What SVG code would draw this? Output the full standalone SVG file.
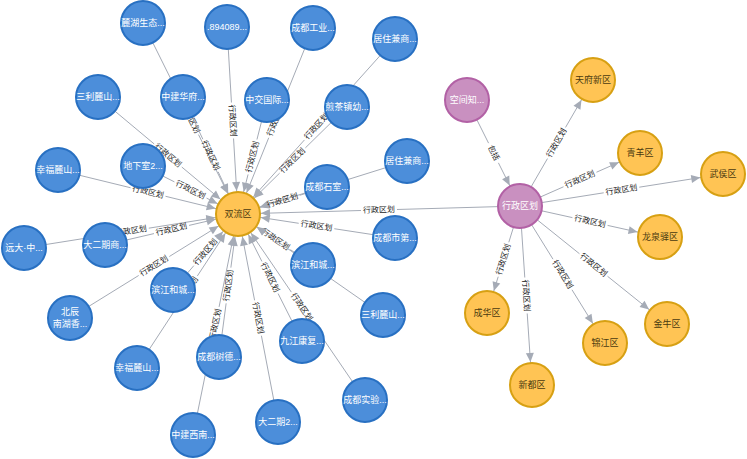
<svg xmlns="http://www.w3.org/2000/svg" width="747" height="459" viewBox="0 0 747 459">
<style>
.e{stroke:#a5abb6;stroke-width:1;fill:none;marker-end:url(#arr)}
.el{font-family:"Liberation Sans","Noto Sans CJK SC",sans-serif;font-size:8px;fill:#222;text-anchor:middle;dominant-baseline:central}
.nb circle{fill:#4c8eda;stroke:#2870c2;stroke-width:2}
.ny circle{fill:#ffc454;stroke:#d7a013;stroke-width:2}
.np circle{fill:#c990c0;stroke:#b261a5;stroke-width:2}
.nb text,.np text{fill:#fff}
.ny text{fill:#4a3a10}
text.c{font-family:"Liberation Sans","Noto Sans CJK SC",sans-serif;font-size:9px;text-anchor:middle;dominant-baseline:central}
</style>
<defs>
<marker id="arr" markerUnits="userSpaceOnUse" orient="auto" refX="0" refY="0" markerWidth="10" markerHeight="10" overflow="visible">
<path d="M-32,-4 L-23,0 L-32,4 Z" fill="#a5abb6"/>
</marker>
</defs>
<rect width="747" height="459" fill="#fff"/>
<g id="edges">
<line class="e" x1="143" y1="23" x2="238" y2="214" stroke-dasharray="88.65 36 300"/>
<text class="el" transform="translate(190.5,118.5) rotate(63.55)">行政区划</text>
<line class="e" x1="227" y1="27" x2="238" y2="214" stroke-dasharray="75.65 36 300"/>
<text class="el" transform="translate(232.5,120.5) rotate(86.63)">行政区划</text>
<line class="e" x1="313" y1="28" x2="238" y2="214" stroke-dasharray="82.3 36 300"/>
<text class="el" transform="translate(275.5,121) rotate(-68.04)">行政区划</text>
<line class="e" x1="395" y1="39" x2="238" y2="214" stroke-dasharray="99.55 36 300"/>
<text class="el" transform="translate(316.5,126.5) rotate(-48.1)">行政区划</text>
<line class="e" x1="98" y1="97" x2="238" y2="214" stroke-dasharray="73.2 36 300"/>
<text class="el" transform="translate(168,155.5) rotate(39.89)">行政区划</text>
<line class="e" x1="183" y1="97" x2="238" y2="214" stroke-dasharray="46.65 36 300"/>
<text class="el" transform="translate(210.5,155.5) rotate(64.83)">行政区划</text>
<line class="e" x1="267" y1="100" x2="238" y2="214" stroke-dasharray="40.8 36 300"/>
<text class="el" transform="translate(252.5,157) rotate(-75.73)">行政区划</text>
<line class="e" x1="347" y1="107" x2="238" y2="214" stroke-dasharray="58.35 36 300"/>
<text class="el" transform="translate(292.5,160.5) rotate(-44.47)">行政区划</text>
<line class="e" x1="143" y1="166" x2="238" y2="214" stroke-dasharray="35.2 36 300"/>
<text class="el" transform="translate(190.5,190) rotate(26.81)">行政区划</text>
<line class="e" x1="58" y1="170" x2="238" y2="214" stroke-dasharray="74.65 36 300"/>
<text class="el" transform="translate(148,192) rotate(13.74)">行政区划</text>
<line class="e" x1="407" y1="161" x2="238" y2="214" stroke-dasharray="70.55 36 300"/>
<text class="el" transform="translate(322.5,187.5) rotate(-17.41)">行政区划</text>
<line class="e" x1="327" y1="187" x2="238" y2="214" stroke-dasharray="28.5 36 300"/>
<text class="el" transform="translate(282.5,200.5) rotate(-16.88)">行政区划</text>
<line class="e" x1="24" y1="248" x2="238" y2="214" stroke-dasharray="90.35 36 300"/>
<text class="el" transform="translate(131,231) rotate(-9.03)">行政区划</text>
<line class="e" x1="105" y1="245" x2="238" y2="214" stroke-dasharray="50.3 36 300"/>
<text class="el" transform="translate(171.5,229.5) rotate(-13.12)">行政区划</text>
<line class="e" x1="395" y1="238" x2="238" y2="214" stroke-dasharray="61.4 36 300"/>
<text class="el" transform="translate(316.5,226) rotate(8.69)">行政区划</text>
<line class="e" x1="70" y1="318" x2="238" y2="214" stroke-dasharray="80.8 36 300"/>
<text class="el" transform="translate(154,266) rotate(-31.76)">行政区划</text>
<line class="e" x1="173" y1="290" x2="238" y2="214" stroke-dasharray="32 36 300"/>
<text class="el" transform="translate(205.5,252) rotate(-49.46)">行政区划</text>
<line class="e" x1="313" y1="265" x2="238" y2="214" stroke-dasharray="27.35 36 300"/>
<text class="el" transform="translate(275.5,239.5) rotate(34.22)">行政区划</text>
<line class="e" x1="383" y1="315" x2="238" y2="214" stroke-dasharray="70.35 36 300"/>
<text class="el" transform="translate(310.5,264.5) rotate(34.86)">行政区划</text>
<line class="e" x1="302" y1="341" x2="238" y2="214" stroke-dasharray="53.1 36 300"/>
<text class="el" transform="translate(270,277.5) rotate(63.26)">行政区划</text>
<line class="e" x1="137" y1="368" x2="238" y2="214" stroke-dasharray="74.1 36 300"/>
<text class="el" transform="translate(187.5,291) rotate(-56.74)">行政区划</text>
<line class="e" x1="219" y1="357" x2="238" y2="214" stroke-dasharray="54.15 36 300"/>
<text class="el" transform="translate(228.5,285.5) rotate(-82.43)">行政区划</text>
<line class="e" x1="193" y1="435" x2="238" y2="214" stroke-dasharray="94.75 36 300"/>
<text class="el" transform="translate(215.5,324.5) rotate(-78.49)">行政区划</text>
<line class="e" x1="365" y1="400" x2="238" y2="214" stroke-dasharray="94.6 36 300"/>
<text class="el" transform="translate(301.5,307) rotate(55.68)">行政区划</text>
<line class="e" x1="278" y1="422" x2="238" y2="214" stroke-dasharray="87.9 36 300"/>
<text class="el" transform="translate(258,318) rotate(79.11)">行政区划</text>
<line class="e" x1="467" y1="100" x2="520" y2="206" stroke-dasharray="48.25 22 300"/>
<text class="el" transform="translate(493.5,153) rotate(63.43)">包括</text>
<line class="e" x1="520" y1="206" x2="238" y2="214" stroke-dasharray="123.05 36 400"/>
<text class="el" transform="translate(379,210) rotate(-1.62)">行政区划</text>
<line class="e" x1="520" y1="206" x2="593" y2="80" stroke-dasharray="54.8 36 300"/>
<text class="el" transform="translate(556.5,143) rotate(-59.92)">行政区划</text>
<line class="e" x1="520" y1="206" x2="640" y2="153" stroke-dasharray="47.6 36 300"/>
<text class="el" transform="translate(580,179.5) rotate(-23.83)">行政区划</text>
<line class="e" x1="520" y1="206" x2="723" y2="174" stroke-dasharray="84.75 36 300"/>
<text class="el" transform="translate(621.5,190) rotate(-8.96)">行政区划</text>
<line class="e" x1="520" y1="206" x2="660" y2="237" stroke-dasharray="53.7 36 300"/>
<text class="el" transform="translate(590,221.5) rotate(12.49)">行政区划</text>
<line class="e" x1="520" y1="206" x2="667" y2="324" stroke-dasharray="76.25 36 300"/>
<text class="el" transform="translate(593.5,265) rotate(38.75)">行政区划</text>
<line class="e" x1="520" y1="206" x2="605" y2="343" stroke-dasharray="62.6 36 300"/>
<text class="el" transform="translate(562.5,274.5) rotate(58.18)">行政区划</text>
<line class="e" x1="520" y1="206" x2="532" y2="385" stroke-dasharray="71.7 36 300"/>
<text class="el" transform="translate(526,295.5) rotate(86.16)">行政区划</text>
<line class="e" x1="520" y1="206" x2="487" y2="313" stroke-dasharray="38 36 300"/>
<text class="el" transform="translate(503.5,259.5) rotate(-72.86)">行政区划</text>
</g>
<g id="n-shuangliu" class="ny"><circle cx="238" cy="214" r="22"/><text class="c" x="238" y="214">双流区</text></g>
<g id="n1" class="nb"><circle cx="143" cy="23" r="22"/><text class="c" x="143" y="23">麓湖生态...</text></g>
<g id="n2" class="nb"><circle cx="227" cy="27" r="22"/><text class="c" x="227" y="27">.894089...</text></g>
<g id="n3" class="nb"><circle cx="313" cy="28" r="22"/><text class="c" x="313" y="28">成都工业...</text></g>
<g id="n4" class="nb"><circle cx="395" cy="39" r="22"/><text class="c" x="395" y="39">居住兼商...</text></g>
<g id="n5" class="nb"><circle cx="98" cy="97" r="22"/><text class="c" x="98" y="97">三利麓山...</text></g>
<g id="n6" class="nb"><circle cx="183" cy="97" r="22"/><text class="c" x="183" y="97">中建华府...</text></g>
<g id="n7" class="nb"><circle cx="267" cy="100" r="22"/><text class="c" x="267" y="100">中交国际...</text></g>
<g id="n8" class="nb"><circle cx="347" cy="107" r="22"/><text class="c" x="347" y="107">煎茶镇幼...</text></g>
<g id="n9" class="nb"><circle cx="143" cy="166" r="22"/><text class="c" x="143" y="166">地下室2...</text></g>
<g id="n10" class="nb"><circle cx="58" cy="170" r="22"/><text class="c" x="58" y="170">幸福麓山...</text></g>
<g id="n11" class="nb"><circle cx="407" cy="161" r="22"/><text class="c" x="407" y="161">居住兼商...</text></g>
<g id="n12" class="nb"><circle cx="327" cy="187" r="22"/><text class="c" x="327" y="187">成都石室...</text></g>
<g id="n13" class="nb"><circle cx="24" cy="248" r="22"/><text class="c" x="24" y="248">远大·中...</text></g>
<g id="n14" class="nb"><circle cx="105" cy="245" r="22"/><text class="c" x="105" y="245">大二期商...</text></g>
<g id="n15" class="nb"><circle cx="395" cy="238" r="22"/><text class="c" x="395" y="238">成都市第...</text></g>
<g id="n16" class="nb"><circle cx="70" cy="318" r="22"/><text class="c" x="70" y="312">北辰</text><text class="c" x="70" y="324">南湖香...</text></g>
<g id="n17" class="nb"><circle cx="173" cy="290" r="22"/><text class="c" x="173" y="290">滨江和城...</text></g>
<g id="n18" class="nb"><circle cx="313" cy="265" r="22"/><text class="c" x="313" y="265">滨江和城...</text></g>
<g id="n19" class="nb"><circle cx="383" cy="315" r="22"/><text class="c" x="383" y="315">三利麓山...</text></g>
<g id="n20" class="nb"><circle cx="302" cy="341" r="22"/><text class="c" x="302" y="341">九江康复...</text></g>
<g id="n21" class="nb"><circle cx="137" cy="368" r="22"/><text class="c" x="137" y="368">幸福麓山...</text></g>
<g id="n22" class="nb"><circle cx="219" cy="357" r="22"/><text class="c" x="219" y="357">成都树德...</text></g>
<g id="n23" class="nb"><circle cx="193" cy="435" r="22"/><text class="c" x="193" y="435">中建西南...</text></g>
<g id="n24" class="nb"><circle cx="365" cy="400" r="22"/><text class="c" x="365" y="400">成都实验...</text></g>
<g id="n25" class="nb"><circle cx="278" cy="422" r="22"/><text class="c" x="278" y="422">大二期2...</text></g>
<g id="n-kongjian" class="np"><circle cx="467" cy="100" r="22"/><text class="c" x="467" y="100">空间知...</text></g>
<g id="n-xingzheng" class="np"><circle cx="520" cy="206" r="22"/><text class="c" x="520" y="206">行政区划</text></g>
<g id="n-tianfu" class="ny"><circle cx="593" cy="80" r="22"/><text class="c" x="593" y="80">天府新区</text></g>
<g id="n-qingyang" class="ny"><circle cx="640" cy="153" r="22"/><text class="c" x="640" y="153">青羊区</text></g>
<g id="n-wuhou" class="ny"><circle cx="723" cy="174" r="22"/><text class="c" x="723" y="174">武侯区</text></g>
<g id="n-longquanyi" class="ny"><circle cx="660" cy="237" r="22"/><text class="c" x="660" y="237">龙泉驿区</text></g>
<g id="n-jinniu" class="ny"><circle cx="667" cy="324" r="22"/><text class="c" x="667" y="324">金牛区</text></g>
<g id="n-jinjiang" class="ny"><circle cx="605" cy="343" r="22"/><text class="c" x="605" y="343">锦江区</text></g>
<g id="n-xindu" class="ny"><circle cx="532" cy="385" r="22"/><text class="c" x="532" y="385">新都区</text></g>
<g id="n-chenghua" class="ny"><circle cx="487" cy="313" r="22"/><text class="c" x="487" y="313">成华区</text></g>
</svg>
